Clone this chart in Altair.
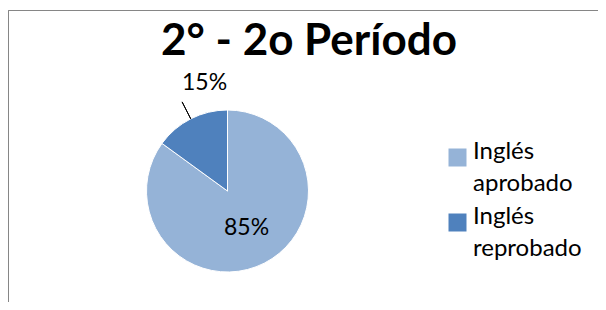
import altair as alt
import pandas as pd

categories = ["Inglés aprobado", "Inglés reprobado"]
values = [85, 15]
labels = ["85%", "15%"]
colors = ["#95B3D7", "#4F81BD"]
title_text = ["2° - 2o Período"]

df = pd.DataFrame({"cat": categories, "value": values, "label": labels, "order": [0, 1]})
tdf = pd.DataFrame({"t": title_text})

W, H = 590, 294
CX, CY = 219.5, 183
R = 81
FONT = "Lato"

color = alt.Color("cat:N", scale=alt.Scale(domain=categories, range=colors), legend=None)

base = alt.Chart(df)

pie = base.mark_arc(outerRadius=R, stroke="#ffffff", strokeWidth=1).encode(
    theta=alt.Theta("value:Q", stack=True),
    color=color,
    order=alt.Order("order:Q"),
    x=alt.value(CX), y=alt.value(CY),
)

inner_label = base.transform_filter(alt.datum.cat == categories[0]).mark_text(
    radius=42, font=FONT, fontSize=23, color="#000000", align="center", baseline="middle"
).encode(
    theta=alt.Theta("value:Q", stack=True),
    order=alt.Order("order:Q"),
    text="label:N",
    x=alt.value(CX), y=alt.value(CY),
)

lead_base = base.transform_window(
    cum="sum(value)", sort=[alt.SortField("order")]
).transform_calculate(mid="datum.cum - datum.value/2").transform_filter(
    alt.datum.cat == categories[1]
)

leader = lead_base.mark_arc(radius=R, radius2=100, stroke="#000000", strokeWidth=1, fill=None).encode(
    theta=alt.Theta("mid:Q"), theta2="mid:Q",
    x=alt.value(CX), y=alt.value(CY),
)

outer_label = lead_base.mark_text(
    radius=110, dx=27, dy=-10, font=FONT, fontSize=23, color="#000000", align="center", baseline="middle"
).encode(
    theta=alt.Theta("mid:Q"),
    text="label:N",
    x=alt.value(CX), y=alt.value(CY),
)

leg_y = alt.Y("cat:N", scale=alt.Scale(domain=categories, range=[149.5, 214.5], padding=0), axis=None)
leg_sq = base.mark_square(size=324, opacity=1, strokeWidth=0).encode(
    x=alt.value(449.5), y=leg_y, color=color,
)
leg_txt = base.mark_text(
    align="left", baseline="alphabetic", font=FONT, fontSize=24, lineBreak=" ", lineHeight=32.3,
    color="#000000", dy=1,
).encode(x=alt.value(465), y=leg_y, text="cat:N")

title = alt.Chart(tdf).mark_text(
    font=FONT, fontSize=44, fontWeight="bold", color="#000000", align="center", baseline="alphabetic"
).encode(x=alt.value(301), y=alt.value(47), text="t:N")

top_line = base.mark_rule(color="#868686", strokeWidth=1).encode(
    x=alt.value(0.5), x2=alt.value(W), y=alt.value(2.5)
)
left_line = base.mark_rule(color="#868686", strokeWidth=1).encode(
    x=alt.value(0.5), y=alt.value(2.5), y2=alt.value(H)
)

chart = alt.layer(pie, inner_label, leader, outer_label, leg_sq, leg_txt, title, top_line, left_line).properties(
    width=W, height=H,
    padding=0,
    autosize=alt.AutoSizeParams(type="none"),
).configure_view(stroke=None)

chart.save("out.html", embed_options={"renderer": "svg", "actions": False})
